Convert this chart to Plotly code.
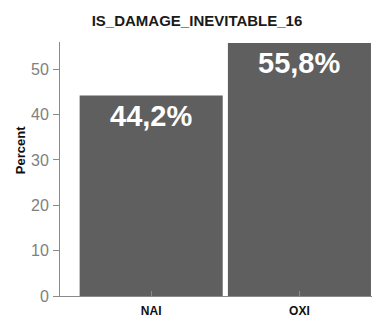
import plotly.graph_objects as go

categories = ["NAI", "OXI"]
percents = [44.2, 55.8]
labels = ["44,2%", "55,8%"]
title_text = "IS_DAMAGE_INEVITABLE_16"
y_title = "Percent"
y_ticks = [0, 10, 20, 30, 40, 50]

# page body has an 8px margin, so the figure is sized/positioned to compensate
W, H = 372, 312
L, R, T, B = 52, 2, 34, 22
FONT = "Liberation Sans, Arial"

fig = go.Figure()
fig.add_trace(go.Bar(
    x=categories, y=percents, width=0.965,
    marker=dict(color="#5f5f5f", line=dict(width=0)),
    hoverinfo="skip",
))
for c, v, t in zip(categories, percents, labels):
    fig.add_annotation(x=c, y=v, text="<b>%s</b>" % t, showarrow=False,
                       xref="x", yref="y", yanchor="top", yshift=-2,
                       font=dict(family=FONT, size=29, color="white"))
pw, ph = W - L - R, H - T - B
fig.add_annotation(x=(12 - L) / pw, y=(H - B - 143) / ph, xref="paper", yref="paper",
                   text="<b>%s</b>" % y_title, showarrow=False, textangle=-90,
                   xanchor="center", yanchor="middle",
                   font=dict(family=FONT, size=13, color="#111"))
fig.update_layout(
    width=W, height=H,
    margin=dict(l=L, r=R, t=T, b=B),
    paper_bgcolor="white", plot_bgcolor="white",
    showlegend=False,
    title=dict(text="<b>%s</b>" % title_text, x=189 / W, xanchor="center", y=1 - 13 / H, yanchor="middle",
               font=dict(family=FONT, size=15, color="#1a1a1a")),
    xaxis=dict(range=[-0.615, 1.53], showline=True, linecolor="#8a8a8a", linewidth=1,
               ticks="inside", ticklen=5, tickcolor="#8a8a8a", showgrid=False, zeroline=False,
               ticklabelstandoff=4,
               tickfont=dict(family=FONT, size=12, color="#111"),
               tickprefix="<b>", ticksuffix="</b>"),
    yaxis=dict(range=[0, 56], tickvals=y_ticks, showline=True, linecolor="#8a8a8a", linewidth=1,
               ticks="outside", ticklen=6, tickcolor="#8a8a8a", showgrid=False, zeroline=False,
               ticklabelstandoff=1,
               tickfont=dict(family=FONT, size=16, color="#808080")),
)
fig.write_html("out.html")
